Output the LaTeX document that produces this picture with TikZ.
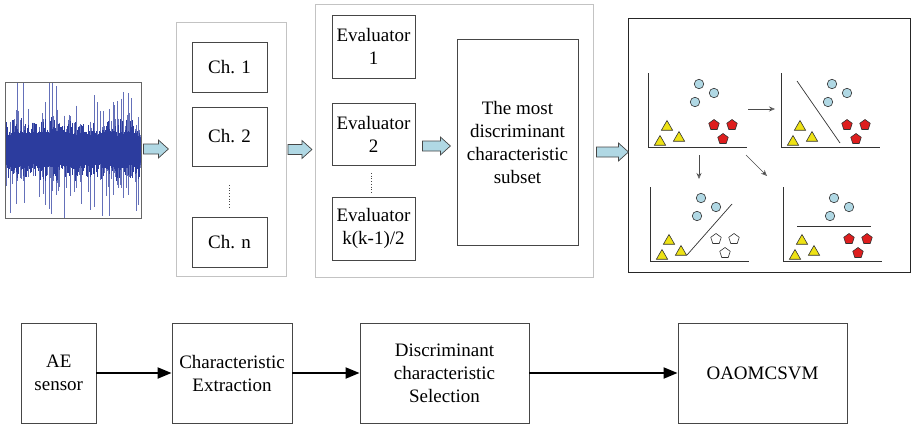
\documentclass[tikz,border=0pt]{standalone}
\usepackage{fontspec}
\setmainfont{Liberation Serif}
\usetikzlibrary{shapes.geometric,arrows.meta,calc}

\definecolor{wave}{RGB}{44,60,158}
\definecolor{wavelight}{RGB}{100,112,185}
\definecolor{panelgray}{RGB}{195,195,195}
\definecolor{boxline}{RGB}{70,70,70}
\definecolor{arrowfill}{RGB}{176,216,228}
\definecolor{dotblue}{RGB}{176,216,228}
\definecolor{triyellow}{RGB}{238,226,20}
\definecolor{pentred}{RGB}{222,30,30}

\tikzset{
  txt/.style={font=\fontsize{19}{23}\selectfont, align=center, inner sep=0pt},
  panel/.style={draw=panelgray, line width=0.9pt, inner sep=0pt},
  box/.style={txt, draw=boxline, line width=0.8pt},
  flowbox/.style={txt, draw=boxline, line width=0.9pt, minimum height=100pt},
  flow/.style={line width=2pt, -{Triangle[length=14pt,width=11pt]}},
  blk/.style={draw=boxline, fill=arrowfill, line width=0.7pt, line join=miter},
  vdots/.style={dotted, line width=0.7pt, boxline},
  axis/.style={line width=0.8pt, black!80},
  sep/.style={line width=0.7pt, black!80},
  thinarrow/.style={line width=0.7pt, black!70, -{Stealth[length=6pt,width=5pt,open]}},
  circ/.style={circle, draw=black!80, fill=dotblue, line width=0.6pt, minimum size=9.5pt, inner sep=0pt},
  tri/.style={regular polygon, regular polygon sides=3, draw=black!80, fill=triyellow, line width=0.6pt, minimum size=13pt, inner sep=0pt},
  pent/.style={regular polygon, regular polygon sides=5, draw=black!80, fill=pentred, line width=0.6pt, minimum size=11pt, inner sep=0pt},
  wpent/.style={pent, fill=white},
  waveframe/.style={draw=black!60, line width=0.8pt, minimum width=136pt, minimum height=136pt, inner sep=0pt},
}

% block arrow: #1 = tail point, #2 = total length
\newcommand\blkarrow[2]{%
  \draw[blk] (#1) ++(0,-5) -- ++(#2-10,0) -- ++(0,-4) -- ++(10,9)
    -- ++(-10,9) -- ++(0,-4) -- ++(-#2+10,0) -- cycle;}

% one small scatter plot: #1 = axis corner, #2 = prefix, #3 = pentagon style
\newcommand\scatterplot[3]{%
  \begin{scope}[shift={(#1)}]
    \coordinate (#2o) at (0,0);
    \draw[axis] (0,-74) -- (0,0) -- (99,0);
    \node[circ] (#2c1) at (51,-63) {};
    \node[circ] (#2c2) at (66,-54) {};
    \node[circ] (#2c3) at (47,-45) {};
    \node[tri] (#2t1) at (19,-20) {};
    \node[tri] (#2t2) at (31,-9) {};
    \node[tri] (#2t3) at (12,-5) {};
    \node[#3] (#2p1) at (66,-22) {};
    \node[#3] (#2p2) at (84,-22) {};
    \node[#3] (#2p3) at (75,-8) {};
  \end{scope}}

\begin{document}
\begin{tikzpicture}[x=1pt,y=-1pt]
\useasboundingbox (0,0) rectangle (911,426);

% ---------- acoustic emission signal ----------
\node[waveframe] (wave) at (73,150) {};
\begin{scope}
  \clip (5.5,82.5) rectangle (140.5,217.5);
  \pgfmathsetseed{7}
  % occasional tall bursts
  \foreach \i in {0,...,90} {
    \pgfmathsetmacro\xx{6+rnd*134}
    \pgfmathsetmacro\up{20+62*rnd*rnd}
    \pgfmathsetmacro\dn{20+62*rnd*rnd}
    \draw[wavelight, line width=0.75pt] (\xx,150-\up) -- (\xx,150+\dn);
  }
  % dense noise band
  \foreach \i in {0,...,399} {
    \pgfmathsetmacro\xx{5.5+\i*0.3385}
    \pgfmathsetmacro\up{12+7*rnd+ifthenelse(rnd<0.3,14*rnd,0)}
    \pgfmathsetmacro\dn{12+7*rnd+ifthenelse(rnd<0.3,14*rnd,0)}
    \draw[wave, line width=0.45pt] (\xx,150-\up) -- (\xx,150+\dn);
  }
  \fill[wave] (5.5,137) rectangle (140.5,163);
\end{scope}
\node[waveframe] (waveborder) at (wave) {};

% ---------- channels ----------
\node[panel, minimum width=110pt, minimum height=254pt] (chpanel) at (231.5,149.5) {};
\node[box, minimum width=75pt, minimum height=50pt] (ch1) at (229.5,67) {Ch. 1};
\node[box, minimum width=75pt, minimum height=59pt] (ch2) at (229.5,136.5) {Ch. 2};
\node[box, minimum width=75pt, minimum height=50pt] (chn) at (229.5,242) {Ch. n};
\draw[vdots] (229.5,185) -- (229.5,207);

% ---------- evaluators ----------
\node[panel, minimum width=278pt, minimum height=273pt] (evpanel) at (454,140.5) {};
\node[box, minimum width=83pt, minimum height=63pt] (ev1) at (373.5,46.5) {Evaluator\\1};
\node[box, minimum width=83pt, minimum height=62pt] (ev2) at (373.5,134) {Evaluator\\2};
\node[box, minimum width=83pt, minimum height=63pt] (ev3) at (373.5,228.5) {Evaluator\\k(k-1)/2};
\draw[vdots] (371,173) -- (371,193);
\node[box, minimum width=121pt, minimum height=206pt] (subset) at (517.5,142)
  {The most\\discriminant\\characteristic\\subset};

% ---------- classification ----------
\node[draw=black!85, line width=1pt, minimum width=282pt, minimum height=254pt, inner sep=0pt] (clpanel) at (769,145) {};
\scatterplot{648,147}{a}{pent}
\scatterplot{781,147}{b}{pent}
\scatterplot{650,261}{c}{wpent}
\scatterplot{783,261}{d}{pent}
\draw[sep] ($(bo)+(16,-66)$) -- ($(bo)+(59,-4)$);
\draw[sep] ($(co)+(37,-6)$) -- ($(co)+(82,-57)$);
\draw[sep] ($(do)+(14,-35)$) -- ($(do)+(88,-35)$);
\draw[thinarrow] ($(ao)+(100,-38)$) -- ($(bo)+(-6,-38)$);
\draw[thinarrow] ($(ao)+(51,8)$) -- ($(ao)+(51,32)$);
\draw[thinarrow] ($(ao)+(98,8)$) -- ($(ao)+(119,29)$);

% ---------- block arrows between stages ----------
\blkarrow{$(wave.east)+(2,-1)$}{25}
\blkarrow{$(chpanel.east)+(1,0)$}{24}
\blkarrow{$(ev2.east)+(7,12)$}{28}
\blkarrow{$(evpanel.east)+(3,11.5)$}{32}

% ---------- flow chart ----------
\node[flowbox, minimum width=74.5pt] (ae) at (58.75,373) {AE\\sensor};
\node[flowbox, minimum width=120pt] (ce) at (232,373) {Characteristic\\Extraction};
\node[flowbox, minimum width=169pt] (ds) at (444.5,373) {Discriminant\\characteristic\\Selection};
\node[flowbox, minimum width=169pt] (oa) at (762.5,373) {OAOMCSVM};
\draw[flow] (ae) -- (ce);
\draw[flow] (ce) -- (ds);
\draw[flow] (ds) -- (oa);
\end{tikzpicture}
\end{document}
